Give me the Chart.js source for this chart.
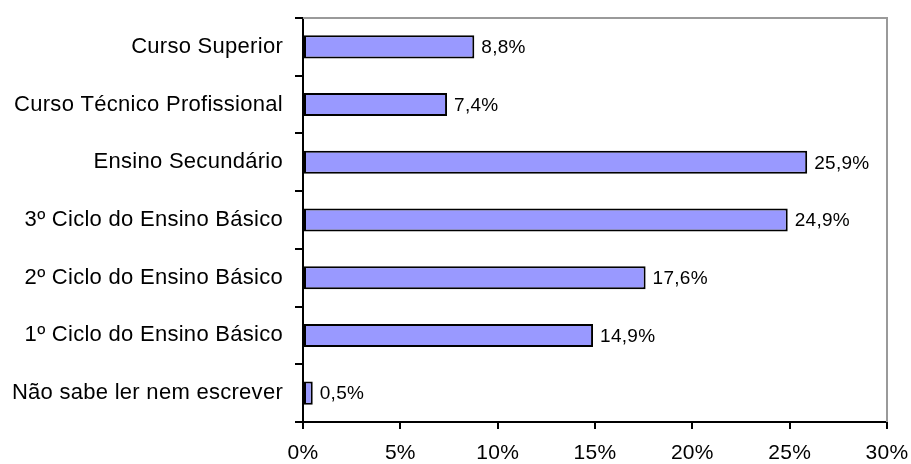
<!DOCTYPE html>
<html lang="pt">
<head>
    <meta charset="UTF-8">
    <title>Habilitações literárias</title>
    <script src="https://cdn.jsdelivr.net/npm/chart.js"></script>
    <style>
        html, body { margin: 0; padding: 0; background: #fff; }
        .wrap { width: 911px; height: 464px; position: relative; }
    </style>
</head>
<body>
    <div class="wrap"><canvas id="grafico"></canvas></div>

    <script>
        // dados (de cima para baixo)
        const categorias = [
            'Curso Superior',
            'Curso Técnico Profissional',
            'Ensino Secundário',
            '3º Ciclo do Ensino Básico',
            '2º Ciclo do Ensino Básico',
            '1º Ciclo do Ensino Básico',
            'Não sabe ler nem escrever'
        ];
        const percentagens = [8.8, 7.4, 25.9, 24.9, 17.6, 14.9, 0.5];
        const eixoMin = 0, eixoMax = 30, eixoPasso = 5;

        const fonte = "'Liberation Sans', Arial, sans-serif";

        function fmt(v) {
            return v.toFixed(1).replace('.', ',') + '%';
        }

        // o texto original tem as letras um pouco mais afastadas
        const espacamento = {
            id: 'espacamento',
            beforeLayout(chart) { chart.ctx.letterSpacing = '0.28px'; },
            beforeDraw(chart) { chart.ctx.letterSpacing = '0.28px'; }
        };

        // moldura cinzenta (topo e direita) da área do gráfico
        const moldura = {
            id: 'moldura',
            beforeDatasetsDraw(chart) {
                const a = chart.chartArea, ctx = chart.ctx;
                ctx.save();
                ctx.strokeStyle = '#9a9a9a';
                ctx.lineWidth = 2;
                ctx.beginPath();
                ctx.moveTo(a.left, a.top);
                ctx.lineTo(a.right, a.top);
                ctx.lineTo(a.right, a.bottom);
                ctx.stroke();
                ctx.restore();
            }
        };

        // rótulos de valor ao lado das barras
        const rotulos = {
            id: 'rotulos',
            afterDatasetsDraw(chart) {
                const ctx = chart.ctx;
                const meta = chart.getDatasetMeta(0);
                ctx.save();
                ctx.font = '19px ' + fonte;
                ctx.fillStyle = '#000';
                ctx.textAlign = 'left';
                ctx.textBaseline = 'middle';
                meta.data.forEach((bar, i) => {
                    ctx.fillText(fmt(percentagens[i]), bar.x + 7, bar.y + 1);
                });
                ctx.restore();
            }
        };

        new Chart(document.getElementById('grafico').getContext('2d'), {
            type: 'bar',
            data: {
                labels: categorias,
                datasets: [{
                    data: percentagens,
                    backgroundColor: '#9999ff',
                    borderColor: '#000',
                    borderWidth: 2,
                    borderSkipped: false,
                    categoryPercentage: 1,
                    barPercentage: 0.4
                }]
            },
            options: {
                indexAxis: 'y',
                responsive: true,
                maintainAspectRatio: false,
                animation: false,
                layout: { padding: { top: 18, right: 24, left: 0, bottom: 0 } },
                plugins: {
                    legend: { display: false },
                    tooltip: { enabled: false }
                },
                scales: {
                    x: {
                        min: eixoMin,
                        max: eixoMax,
                        afterFit(s) {
                            s.height = 42;
                            s.paddingLeft = 0;
                            s.paddingRight = 0;
                        },
                        border: { display: true, color: '#000', width: 2 },
                        grid: { drawOnChartArea: false, drawTicks: true, tickLength: 7, color: '#000', lineWidth: 2 },
                        ticks: {
                            stepSize: eixoPasso,
                            padding: 12,
                            color: '#000',
                            font: { family: fonte, size: 21 },
                            callback: v => v + '%'
                        }
                    },
                    y: {
                        afterFit(s) {
                            s.width = 303;
                            s.paddingTop = 0;
                            s.paddingBottom = 0;
                        },
                        border: { display: true, color: '#000', width: 2 },
                        grid: { offset: true, drawOnChartArea: false, drawTicks: true, tickLength: 8, color: '#000', lineWidth: 2 },
                        ticks: {
                            padding: 12,
                            color: '#000',
                            font: { family: fonte, size: 22 }
                        }
                    }
                }
            },
            plugins: [espacamento, moldura, rotulos]
        });
    </script>
</body>
</html>
